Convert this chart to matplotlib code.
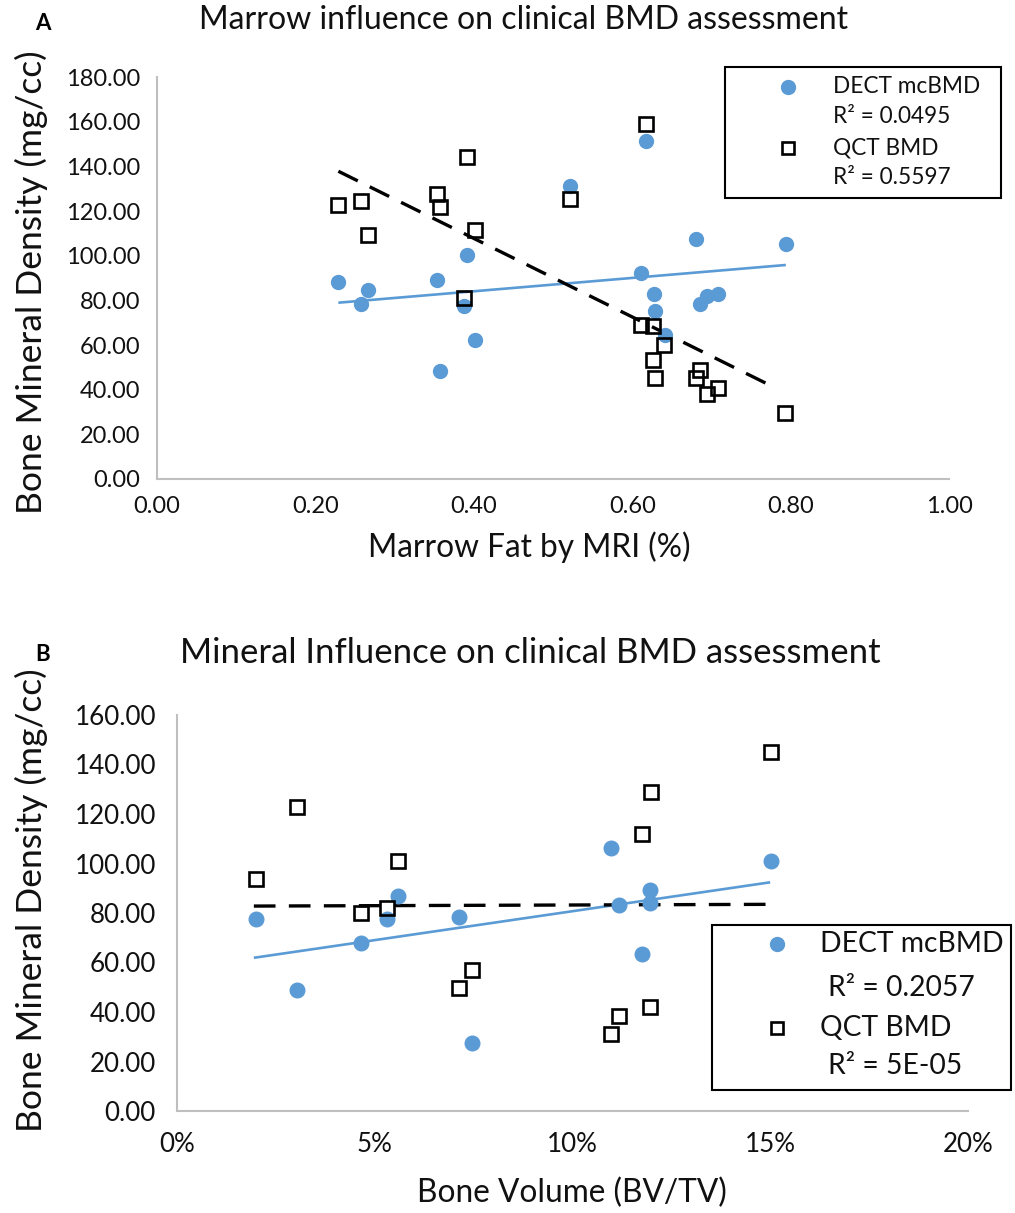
import matplotlib
matplotlib.use("Agg")
import matplotlib.pyplot as plt
from matplotlib.lines import Line2D
from matplotlib.patches import Rectangle
from matplotlib.ticker import FuncFormatter

plt.rcParams['font.family'] = ['Lato', 'DejaVu Sans']

# ---------------- Panel A data ----------------
a_title = "Marrow influence on clinical BMD assessment"
a_xlabel = "Marrow Fat by MRI (%)"
a_ylabel = "Bone Mineral Density (mg/cc)"
a_dect_x = [0.229, 0.257, 0.266, 0.354, 0.357, 0.391, 0.388, 0.402, 0.522, 0.618,
            0.611, 0.627, 0.629, 0.641, 0.680, 0.685, 0.694, 0.708, 0.794]
a_dect_y = [88.2, 78.5, 84.5, 89.1, 48.2, 100.4, 77.4, 62.2, 131.4, 151.4,
            92.4, 82.7, 75.5, 64.7, 107.4, 78.2, 82.2, 82.9, 105.2]
a_qct_x = [0.229, 0.257, 0.266, 0.354, 0.357, 0.391, 0.388, 0.402, 0.522, 0.618,
           0.611, 0.626, 0.640, 0.626, 0.629, 0.685, 0.681, 0.708, 0.695, 0.793]
a_qct_y = [122.7, 124.7, 109.5, 127.7, 121.7, 144.2, 81.1, 111.6, 125.4, 159.2,
           69.2, 68.4, 60.2, 53.4, 45.1, 48.9, 45.1, 41.0, 37.9, 29.7]
a_dect_trend_x = [0.229, 0.794]
a_dect_trend_y = [79.0, 95.9]
a_qct_trend_x = [0.229, 0.782]
a_qct_trend_y = [137.9, 40.6]
a_xticks = [0.0, 0.2, 0.4, 0.6, 0.8, 1.0]
a_yticks = [0, 20, 40, 60, 80, 100, 120, 140, 160, 180]
a_legend = ["DECT mcBMD", "R\u00b2 = 0.0495", "QCT BMD", "R\u00b2 = 0.5597"]

# ---------------- Panel B data ----------------
b_title = "Mineral Influence on clinical BMD assessment"
b_xlabel = "Bone Volume (BV/TV)"
b_ylabel = "Bone Mineral Density (mg/cc)"
b_dect_x = [2.00, 3.03, 4.66, 5.32, 5.60, 7.14, 7.47, 10.97, 11.19, 11.75, 11.96, 11.96, 15.01]
b_dect_y = [77.5, 48.9, 67.8, 77.5, 86.9, 78.5, 27.4, 106.4, 83.2, 63.3, 89.3, 83.9, 101.0]
b_qct_x = [2.00, 3.03, 4.66, 5.32, 5.60, 7.14, 7.47, 10.97, 11.19, 11.75, 11.96, 11.98, 15.01]
b_qct_y = [93.7, 122.7, 80.1, 82.1, 101.0, 49.8, 57.0, 31.1, 38.5, 111.8, 41.9, 129.0, 144.9]
b_dect_trend_x = [1.95, 15.0]
b_dect_trend_y = [61.9, 92.4]
b_qct_trend_x = [1.95, 14.95]
b_qct_trend_y = [82.8, 83.5]
b_xticks = [0, 5, 10, 15, 20]
b_yticks = [0, 20, 40, 60, 80, 100, 120, 140, 160]
b_legend = ["DECT mcBMD", "R\u00b2 = 0.2057", "QCT BMD", "R\u00b2 = 5E-05"]

BLUE = "#5B9BD5"
GRAY = "#BFBFBF"
TXT = "#111111"
W, H = 1015, 1213

fig = plt.figure(figsize=(W / 100, H / 100), dpi=100)


def fx(px):
    return px / W


def fy(py):
    return 1 - py / H


def style_axes(ax, fs, pad):
    for s in ("top", "right"):
        ax.spines[s].set_visible(False)
    for s in ("left", "bottom"):
        ax.spines[s].set_color(GRAY)
        ax.spines[s].set_linewidth(1.5)
    ax.tick_params(length=0, labelsize=fs, pad=pad, colors=TXT)


def panel(ax, dx, dy, qx, qy, dtx, dty, qtx, qty, msize):
    ax.plot(dtx, dty, color=BLUE, lw=1.9, zorder=2, solid_capstyle="butt")
    ax.plot(qtx, qty, color="black", lw=2.4, ls=(0, (6.5, 4)), zorder=2)
    ax.plot(dx, dy, ls="none", marker="o", ms=msize, color=BLUE, mec=BLUE, zorder=3)
    ax.plot(qx, qy, ls="none", marker="s", ms=msize - 0.5, mfc="none", mec="black",
            mew=1.9, zorder=4)


def legend_box(x0, y0, x1, y1, mx, rows, fs, msize):
    fig.add_artist(Rectangle((fx(x0), fy(y1)), fx(x1) - fx(x0), fy(y0) - fy(y1),
                             transform=fig.transFigure, fill=True, fc="white",
                             ec="black", lw=1.5, zorder=10))
    for tx, ty, txt in rows:
        fig.text(fx(tx), fy(ty), txt, fontsize=fs, ha="left", va="center",
                 color=TXT, zorder=11)
    fig.add_artist(Line2D([fx(mx)], [fy(rows[0][1])], transform=fig.transFigure,
                          marker="o", ms=msize, color=BLUE, ls="none", zorder=11))
    fig.add_artist(Line2D([fx(mx)], [fy(rows[2][1])], transform=fig.transFigure,
                          marker="s", ms=msize - 1.5, mfc="none", mec="black", mew=1.9,
                          ls="none", zorder=11))


# ---------------- Panel A ----------------
axA = fig.add_axes([fx(157), fy(479), fx(949) - fx(157), fy(77.3) - fy(479)])
panel(axA, a_dect_x, a_dect_y, a_qct_x, a_qct_y,
      a_dect_trend_x, a_dect_trend_y, a_qct_trend_x, a_qct_trend_y, 10)
axA.set_xlim(0, 1)
axA.set_ylim(0, 180)
axA.set_xticks(a_xticks)
axA.set_yticks(a_yticks)
axA.xaxis.set_major_formatter(FuncFormatter(lambda v, p: f"{v:.2f}"))
axA.yaxis.set_major_formatter(FuncFormatter(lambda v, p: f"{v:.2f}"))
style_axes(axA, 17, 12)
fig.text(fx(524), fy(20), a_title, fontsize=23, ha="center", va="center", color=TXT)
fig.text(fx(43), fy(23), "A", fontsize=16, fontweight="bold", ha="center", va="center")
fig.text(fx(529), fy(547), a_xlabel, fontsize=22.8, ha="center", va="center", color=TXT)
fig.text(fx(31), fy(282), a_ylabel, fontsize=25.5, ha="center", va="center",
         rotation=90, color=TXT)
legend_box(725, 66.7, 1001, 198.3, 788,
           [(833, 86.7, a_legend[0]), (833, 116.7, a_legend[1]),
            (833, 148, a_legend[2]), (833, 178, a_legend[3])], 16.3, 10)

# ---------------- Panel B ----------------
axB = fig.add_axes([fx(176.7), fy(1111), fx(968) - fx(176.7), fy(715) - fy(1111)])
panel(axB, b_dect_x, b_dect_y, b_qct_x, b_qct_y,
      b_dect_trend_x, b_dect_trend_y, b_qct_trend_x, b_qct_trend_y, 10.5)
axB.set_xlim(0, 20)
axB.set_ylim(0, 160)
axB.set_xticks(b_xticks)
axB.set_yticks(b_yticks)
axB.xaxis.set_major_formatter(FuncFormatter(lambda v, p: f"{v:.0f}%"))
axB.yaxis.set_major_formatter(FuncFormatter(lambda v, p: f"{v:.2f}"))
style_axes(axB, 18.7, 15)
fig.text(fx(530), fy(653), b_title, fontsize=25, ha="center", va="center", color=TXT)
fig.text(fx(43), fy(654), "B", fontsize=16, fontweight="bold", ha="center", va="center")
fig.text(fx(572), fy(1193), b_xlabel, fontsize=22.8, ha="center", va="center", color=TXT)
fig.text(fx(31), fy(900), b_ylabel, fontsize=25.5, ha="center", va="center",
         rotation=90, color=TXT)
legend_box(711.7, 925, 1011, 1090, 776.7,
           [(820, 944, b_legend[0]), (828, 988, b_legend[1]),
            (820, 1028, b_legend[2]), (828, 1066, b_legend[3])], 20.3, 10)

fig.savefig("out.png", dpi=100)
